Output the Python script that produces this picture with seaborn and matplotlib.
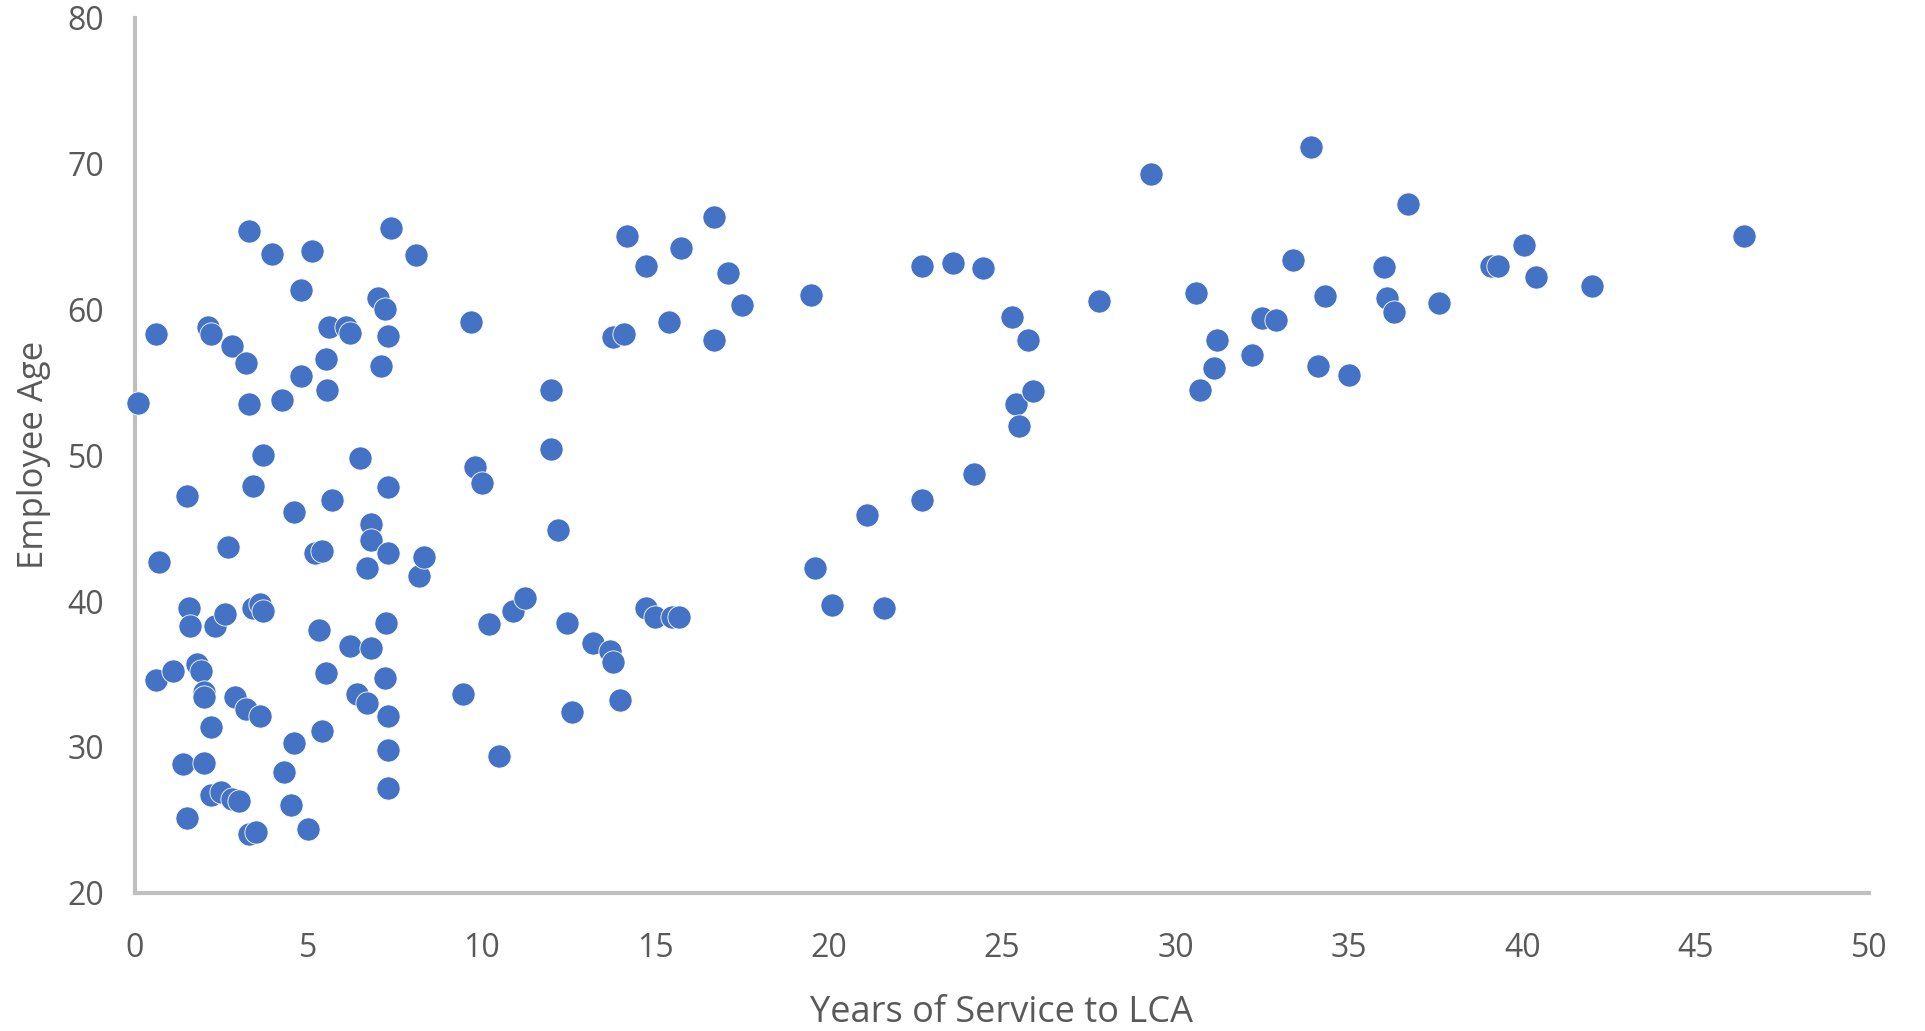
import matplotlib.pyplot as plt
import seaborn as sns
import pandas as pd

# ========================================================
# Data
# ========================================================
years = [
    0.1, 0.6, 0.7, 0.6, 1.1, 1.5, 1.55, 1.6, 1.4, 1.5,
    1.8, 1.9, 2.0, 2.0, 2.0, 2.2, 2.1, 2.2, 2.3, 2.2,
    2.5, 2.6, 2.7, 2.8, 2.8, 2.9, 3.0, 3.2, 3.3, 3.3,
    3.4, 3.4, 3.2, 3.3, 3.6, 3.7, 3.6, 3.5, 3.7, 3.97,
    4.25, 4.3, 4.5, 4.6, 4.6, 4.8, 4.8, 5.0, 5.1, 5.2,
    5.4, 5.3, 5.4, 5.5, 5.5, 5.55, 5.6, 5.7, 6.1, 6.2,
    6.2, 6.4, 6.5, 6.7, 6.7, 6.8, 6.8, 6.8, 7.0, 7.2,
    7.1, 7.3, 7.2, 7.25, 7.3, 7.3, 7.3, 7.3, 7.3, 7.4,
    8.1, 8.2, 8.35, 9.45, 9.7, 9.8, 10.0, 10.2, 10.5, 10.9,
    11.25, 12.0, 12.0, 12.2, 12.45, 12.6, 13.2, 13.7, 13.8, 13.8,
    14.1, 14.0, 14.2, 14.75, 14.75, 15.0, 15.4, 15.5, 15.7, 15.75,
    16.7, 16.7, 17.1, 17.5, 19.5, 19.6, 20.1, 21.1, 21.6, 22.7,
    22.7, 23.6, 24.2, 24.45, 25.3, 25.75, 25.4, 25.5, 25.9, 27.8,
    29.3, 30.6, 30.7, 31.1, 31.2, 32.2, 32.5, 32.9, 33.4, 33.9,
    34.1, 34.3, 35.0, 36.0, 36.1, 36.3, 36.7, 37.6, 39.1, 39.3,
    40.05, 40.4, 42.0, 46.4,
]
age = [
    53.6, 58.3, 42.7, 34.6, 35.2, 47.2, 39.5, 38.3, 28.8, 25.1,
    35.7, 35.2, 33.8, 33.4, 28.9, 31.4, 58.8, 58.3, 38.3, 26.7,
    26.9, 39.1, 43.7, 57.5, 26.4, 33.4, 26.3, 56.3, 65.4, 53.5,
    47.9, 39.5, 32.6, 24.0, 39.8, 39.3, 32.1, 24.2, 50.0, 63.8,
    53.8, 28.3, 26.0, 30.3, 46.1, 61.3, 55.4, 24.4, 64.0, 43.3,
    43.4, 38.0, 31.1, 35.1, 56.6, 54.5, 58.8, 46.9, 58.8, 58.4,
    36.9, 33.6, 49.8, 33.0, 42.3, 45.3, 44.2, 36.8, 60.8, 60.0,
    56.1, 58.2, 34.7, 38.5, 32.1, 29.8, 27.2, 47.8, 43.3, 65.6,
    63.7, 41.7, 43.0, 33.6, 59.1, 49.2, 48.1, 38.4, 29.4, 39.3,
    40.2, 54.5, 50.4, 44.9, 38.5, 32.4, 37.1, 36.6, 35.8, 58.1,
    58.3, 33.2, 65.0, 63.0, 39.5, 38.9, 59.1, 38.9, 38.9, 64.2,
    66.3, 57.9, 62.5, 60.3, 61.0, 42.3, 39.7, 45.9, 39.5, 63.0,
    46.9, 63.2, 48.7, 62.8, 59.5, 57.9, 53.5, 52.0, 54.4, 60.6,
    69.3, 61.1, 54.5, 56.0, 57.9, 56.9, 59.4, 59.3, 63.4, 71.1,
    56.1, 60.9, 55.5, 62.9, 60.8, 59.8, 67.2, 60.4, 63.0, 63.0,
    64.4, 62.2, 61.6, 65.0,
]
x_ticks = [0, 5, 10, 15, 20, 25, 30, 35, 40, 45, 50]
y_ticks = [20, 30, 40, 50, 60, 70, 80]

df = pd.DataFrame({"years": years, "age": age})

# ========================================================
# Plot
# ========================================================
sns.set_style("white")
plt.rcParams["font.family"] = ["Open Sans", "DejaVu Sans"]

fig, ax = plt.subplots(figsize=(19.25, 10.31), dpi=100)
fig.subplots_adjust(left=0.070, right=0.971, top=0.983, bottom=0.134)

sns.scatterplot(
    data=df,
    x="years",
    y="age",
    color="#4472C4",
    s=280,
    edgecolor="white",
    linewidth=0.6,
    ax=ax,
    zorder=3,
    clip_on=False,
)

ax.set_xlim(0, 50)
ax.set_ylim(20, 80)
ax.set_xticks(x_ticks)
ax.set_yticks(y_ticks)
ax.tick_params(axis="both", length=0, labelsize=23, labelcolor="#595959")
ax.tick_params(axis="x", pad=28)
ax.tick_params(axis="y", pad=22)

for side in ["top", "right"]:
    ax.spines[side].set_visible(False)
for side in ["left", "bottom"]:
    ax.spines[side].set_color("#bfbfbf")
    ax.spines[side].set_linewidth(3)

ax.set_xlabel("Years of Service to LCA", fontsize=26, color="#595959", labelpad=22)
ax.set_ylabel("Employee Age", fontsize=25, color="#595959", labelpad=12)

plt.savefig("out.png")
